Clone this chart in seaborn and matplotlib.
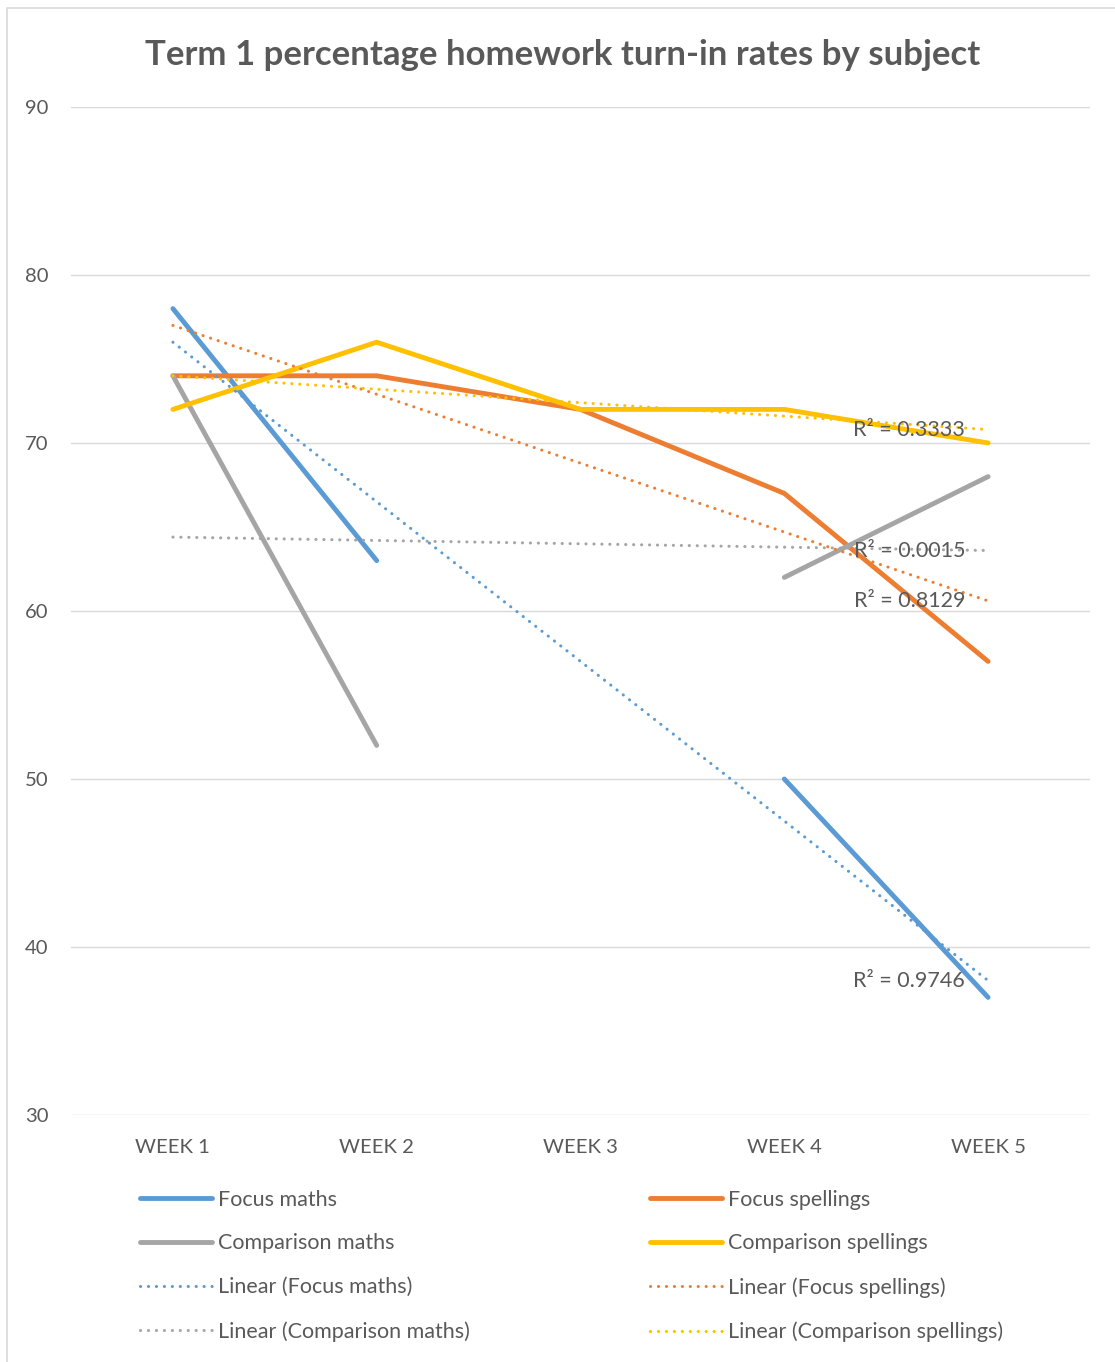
import numpy as np
import pandas as pd
import matplotlib
matplotlib.use("Agg")
import matplotlib.pyplot as plt
from matplotlib.lines import Line2D
from matplotlib.patches import Rectangle
import seaborn as sns

# ---- data ----
weeks = ["WEEK 1", "WEEK 2", "WEEK 3", "WEEK 4", "WEEK 5"]
focus_maths = [78, 63, np.nan, 50, 37]
focus_spellings = [74, 74, 72, 67, 57]
comparison_maths = [74, 52, np.nan, 62, 68]
comparison_spellings = [72, 76, 72, 72, 70]
series_names = ["Focus maths", "Focus spellings", "Comparison maths", "Comparison spellings"]
series_values = [focus_maths, focus_spellings, comparison_maths, comparison_spellings]
colors = {"Focus maths": "#5B9BD5", "Focus spellings": "#ED7D31",
          "Comparison maths": "#A5A5A5", "Comparison spellings": "#FFC000"}
title = "Term 1 percentage homework turn-in rates by subject"
y_ticks = [30, 40, 50, 60, 70, 80, 90]

sns.set_theme(style="white")
plt.rcParams["font.family"] = ["Lato", "DejaVu Sans"]
TXT = "#595959"

W, H = 1115, 1362
fig = plt.figure(figsize=(W / 100, H / 100), dpi=100)
ax = fig.add_axes([71 / W, 1 - 1115 / H, (1090 - 71) / W, (1115 - 107) / H])

# border of chart area
fig.patches.append(Rectangle((7 / W, -0.01), 1.2, 1 - 8 / H + 0.01, transform=fig.transFigure,
                             fill=False, edgecolor="#D9D9D9", lw=1.2))

# build long table with segments (gaps break lines)
rows = []
for name, vals in zip(series_names, series_values):
    seg = 0
    for i, v in enumerate(vals):
        if np.isnan(v):
            seg += 1
            continue
        rows.append({"series": name, "x": i + 1, "value": v, "seg": f"{name}-{seg}"})
df = pd.DataFrame(rows)

MLW = 3.5
sns.lineplot(data=df, x="x", y="value", hue="series", units="seg", estimator=None,
             palette=colors, hue_order=series_names, lw=MLW, legend=False, ax=ax,
             solid_capstyle="round", sort=False)

# linear trendlines
dot = (0, (0.05, 2.55))
DLW = 2.2
r2_vals = {}
for name, vals in zip(series_names, series_values):
    sub = df[df.series == name]
    sns.regplot(data=sub, x="x", y="value", scatter=False, ci=None, truncate=True,
                color=colors[name], ax=ax,
                line_kws={"lw": DLW, "ls": dot, "dash_capstyle": "round"})
    slope, inter = np.polyfit(sub.x, sub.value, 1)
    pred = slope * sub.x + inter
    r2 = 1 - np.sum((sub.value - pred) ** 2) / np.sum((sub.value - sub.value.mean()) ** 2)
    r2_vals[name] = (r2, slope * 5 + inter)

for name in series_names:
    r2, yend = r2_vals[name]
    ax.text(4.887, yend, f"R² = {r2:.4f}", ha="right", va="center",
            fontsize=15.5, color=TXT, zorder=10)

ax.set_xlim(0.5, 5.5)
ax.set_ylim(30, 90)
ax.set_xticks(range(1, 6))
ax.set_xticklabels(weeks)
ax.set_yticks(y_ticks)
ax.set_xlabel("")
ax.set_ylabel("")
ax.grid(axis="y", color="#D9D9D9", lw=1.0)
ax.grid(axis="x", visible=False)
for s in ax.spines.values():
    s.set_visible(False)
ax.tick_params(axis="both", length=0, labelsize=14.6, labelcolor=TXT)
ax.tick_params(axis="y", pad=16)
ax.tick_params(axis="x", pad=17)

fig.text(563 / W, 1 - 55 / H, title, ha="center", va="center", fontsize=25,
         fontweight="bold", color=TXT)

# legend: two columns
def h_solid(n):
    return Line2D([], [], color=colors[n], lw=MLW, solid_capstyle="round")

def h_dot(n):
    return Line2D([], [], color=colors[n], lw=DLW, ls=dot, dash_capstyle="round")

left = [(h_solid("Focus maths"), "Focus maths"), (h_solid("Comparison maths"), "Comparison maths"),
        (h_dot("Focus maths"), "Linear (Focus maths)"), (h_dot("Comparison maths"), "Linear (Comparison maths)")]
right = [(h_solid("Focus spellings"), "Focus spellings"), (h_solid("Comparison spellings"), "Comparison spellings"),
         (h_dot("Focus spellings"), "Linear (Focus spellings)"), (h_dot("Comparison spellings"), "Linear (Comparison spellings)")]
for items, xpx in [(left, 140), (right, 650)]:
    leg = fig.legend([h for h, _ in items], [l for _, l in items], loc="upper left",
                     bbox_to_anchor=(xpx / W, 1 - 1189.5 / H), frameon=False, fontsize=15.5,
                     handlelength=3.35, handletextpad=0.28, labelspacing=1.11, borderpad=0,
                     borderaxespad=0, labelcolor=TXT)

fig.savefig("out.png", dpi=100, facecolor="white")
